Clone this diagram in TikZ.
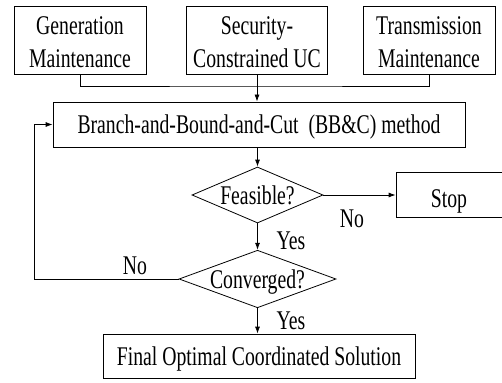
\documentclass[tikz,border=0pt]{standalone}
\usepackage{fontspec}
\setmainfont{Liberation Serif}[FakeStretch=0.73]
\usetikzlibrary{shapes.geometric,arrows.meta}
\begin{document}
\begin{tikzpicture}[x=1pt,y=-1pt,
  every node/.style={font=\fontsize{27}{33}\selectfont},
  box/.style={draw, line width=0.8pt, rectangle, inner sep=0pt, align=center, text height=18pt, text depth=0pt},
  twobox/.style={box, text height=56pt, text depth=0pt},
  dia/.style={draw, line width=0.8pt, diamond, inner sep=0pt, aspect=2.4, text height=18pt, text depth=0pt},
  conn/.style={line width=0.8pt},
  arr/.style={conn, -{Latex[length=7pt,width=5pt]}},
  lbl/.style={inner sep=0pt, text height=18pt, text depth=0pt}]
\useasboundingbox (0,0) rectangle (502,382);
\node[twobox, minimum width=132pt, minimum height=68pt] (gen) at (80,40) {Generation\\Maintenance};
\node[twobox, minimum width=141pt, minimum height=68pt] (sec) at (257,40) {Security-\\Constrained UC};
\node[twobox, minimum width=132pt, minimum height=68pt] (tra) at (429,40) {Transmission\\Maintenance};
\node[box, minimum width=412pt, minimum height=45pt] (bbc) at (259,124.5) {Branch-and-Bound-and-Cut\ \ (BB\&C) method};
\node[dia, minimum width=131pt, minimum height=56pt] (feas) at (257.5,195) {Feasible?};
\node[box, minimum width=106pt, minimum height=45pt, text height=25pt] (stop) at (449,194.5) {Stop};
\node[dia, minimum width=157pt, minimum height=55pt] (conv) at (257.5,279) {Converged?};
\node[box, minimum width=312pt, minimum height=44pt] (final) at (259,356) {Final Optimal Coordinated Solution};
\coordinate (jn) at (257,86);
\coordinate (lp) at (34,279);
\draw[conn] (gen.south) |- (jn) -| (tra.south);
\draw[arr] (sec.south) -- (sec.south |- bbc.north);
\draw[arr] (bbc.south -| feas.north) -- (feas.north);
\draw[arr] (feas.east) -- (feas.east -| stop.west);
\draw[arr] (feas.south) -- (conv.north);
\draw[arr] (conv.south) -- (conv.south |- final.north);
\draw[arr] (conv.west) -- (lp) |- (bbc.west);
\node[lbl] (nf) at (352,218) {No};
\node[lbl] (yf) at (291,240) {Yes};
\node[lbl] (nc) at (135,265.5) {No};
\node[lbl] (yc) at (291,320) {Yes};
\end{tikzpicture}
\end{document}
